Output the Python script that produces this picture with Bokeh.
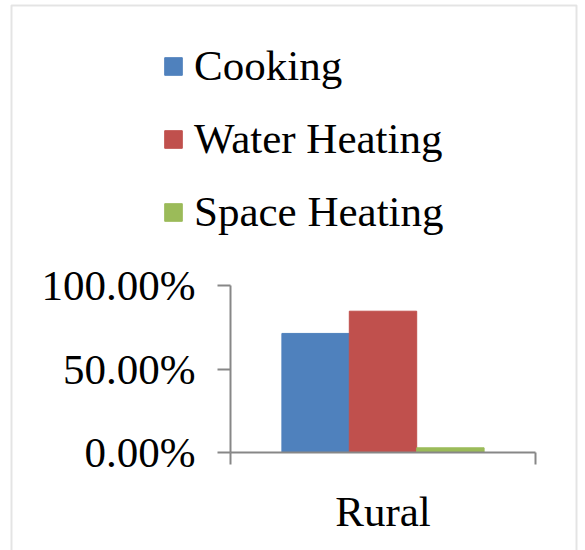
from bokeh.plotting import figure
from bokeh.models import (Range1d, FixedTicker, NumeralTickFormatter, Legend,
                          LegendItem, BoxAnnotation, ColumnDataSource)
from bokeh.embed import file_html
from bokeh.resources import INLINE

# ---- data ----
categories = ["Rural"]
series = ["Cooking", "Water Heating", "Space Heating"]
cooking = [0.713]
water_heating = [0.846]
space_heating = [0.028]
y_ticks = [0.0, 0.5, 1.0]

# ---- layout / style ----
colors = ["#4F81BD", "#C0504D", "#9BBB59"]
AXIS = "#878787"
FONT = "Liberation Serif"
FS = "43px"
W, H = 585, 550
PX_L, PX_R = 230, 535      # plot area in canvas pixels
PX_T, PX_B = 285, 452
ncat = len(categories)
xs = ncat / (PX_R - PX_L)      # data units per pixel
ys = 1.0 / (PX_B - PX_T)

def px_x(px):
    return (px - PX_L) * xs

def px_y(py):
    return (PX_B - py) * ys

p = figure(width=W, height=H, output_backend="svg", toolbar_location=None,
           x_range=Range1d(px_x(0), px_x(W)), y_range=Range1d(px_y(H), px_y(0)),
           min_border=0, background_fill_color="white", border_fill_color="white")
p.outline_line_color = None
p.xgrid.visible = False
p.ygrid.visible = False

bar_w = 0.221
offsets = [-bar_w, 0.0, bar_w]
renderers = []
for vals, off, col in zip([cooking, water_heating, space_heating], offsets, colors):
    src = ColumnDataSource(dict(x=[i + 0.5 + off for i in range(ncat)], top=vals))
    r = p.vbar(x="x", top="top", bottom=0, width=bar_w, source=src,
               fill_color=col, line_color=col, line_width=1)
    renderers.append(r)

# x axis
p.xaxis.fixed_location = 0
p.xaxis.bounds = (0, ncat)
p.xaxis.ticker = FixedTicker(ticks=[i + 0.5 for i in range(ncat)],
                             minor_ticks=list(range(ncat + 1)))
p.xaxis.major_label_overrides = {i + 0.5: c for i, c in enumerate(categories)}
p.xaxis.major_tick_line_color = None
p.xaxis.major_tick_out = 0
p.xaxis.major_tick_in = 0
p.xaxis.minor_tick_out = 12
p.xaxis.minor_tick_in = 0
p.xaxis.minor_tick_line_color = AXIS
p.xaxis.minor_tick_line_width = 2
p.xaxis.axis_line_color = AXIS
p.xaxis.axis_line_width = 2
p.xaxis.major_label_text_font = FONT
p.xaxis.major_label_text_font_size = FS
p.xaxis.major_label_text_color = "black"
p.xaxis.major_label_standoff = 23

# y axis
p.yaxis.fixed_location = 0
p.yaxis.bounds = (0, 1)
p.yaxis.ticker = FixedTicker(ticks=y_ticks, minor_ticks=[])
p.yaxis.formatter = NumeralTickFormatter(format="0.00%")
p.yaxis.major_tick_out = 13
p.yaxis.major_tick_in = 0
p.yaxis.major_tick_line_color = AXIS
p.yaxis.major_tick_line_width = 2
p.yaxis.minor_tick_line_color = None
p.yaxis.axis_line_color = AXIS
p.yaxis.axis_line_width = 2
p.yaxis.major_label_text_font = FONT
p.yaxis.major_label_text_font_size = FS
p.yaxis.major_label_text_color = "black"
p.yaxis.major_label_standoff = 22

legend = Legend(items=[LegendItem(label=s, renderers=[r]) for s, r in zip(series, renderers)],
                location=(162, H - 236), orientation="vertical",
                glyph_width=22, glyph_height=22, label_standoff=10, spacing=24,
                padding=0, margin=0, border_line_color=None, background_fill_alpha=0,
                label_text_font=FONT, label_text_font_size=FS,
                label_text_color="black")
p.add_layout(legend, "center")

border = BoxAnnotation(left=px_x(11), right=px_x(576), top=px_y(5), bottom=px_y(H + 40),
                       fill_alpha=0, line_color="#a6a6a6", line_width=2)
p.add_layout(border)

open("out.html", "w").write(file_html(p, INLINE))
